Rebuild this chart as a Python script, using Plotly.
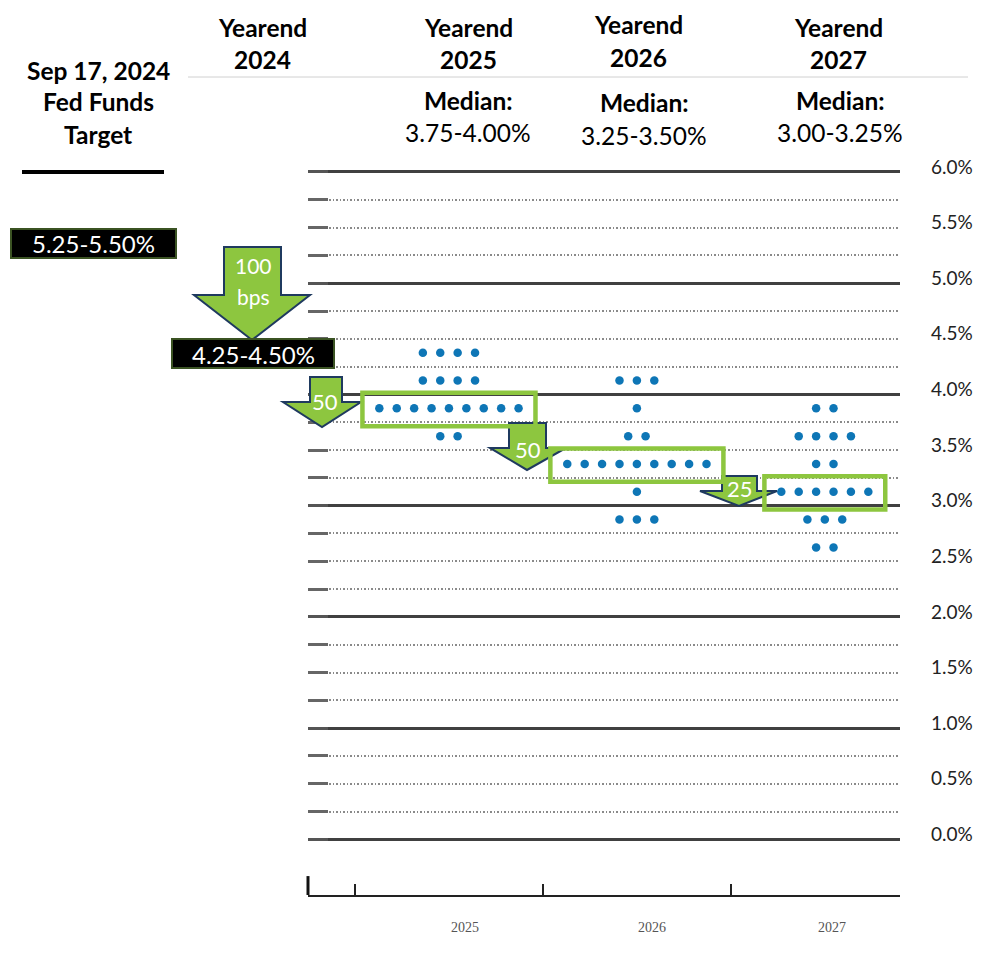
import plotly.graph_objects as go

# FOMC Sep 2024 dot plot, rate midpoints (%) and number of dots at each
years = ["2025", "2026", "2027"]
rates_2025 = [4.375, 4.125, 3.875, 3.625]
counts_2025 = [4, 4, 9, 2]
rates_2026 = [4.125, 3.875, 3.625, 3.375, 3.125, 2.875]
counts_2026 = [3, 1, 2, 9, 1, 3]
rates_2027 = [3.875, 3.625, 3.375, 3.125, 2.875, 2.625]
counts_2027 = [2, 4, 2, 6, 3, 2]

medians = [3.875, 3.375, 3.125]
median_labels = ["3.75-4.00%", "3.25-3.50%", "3.00-3.25%"]
header_years = ["2024", "2025", "2026", "2027"]
current_target = "5.25-5.50%"
yearend_2024_target = "4.25-4.50%"
cut_labels = ["100<br>bps", "50", "50", "25"]

y_ticks = [0.0, 0.5, 1.0, 1.5, 2.0, 2.5, 3.0, 3.5, 4.0, 4.5, 5.0, 5.5, 6.0]
major_grid = [0, 1, 2, 3, 4, 5, 6]
minor_grid = [0.25, 0.5, 0.75, 1.25, 1.5, 1.75, 2.25, 2.5, 2.75, 3.25, 3.5, 3.75,
              4.25, 4.5, 4.75, 5.25, 5.5, 5.75]

FONT = "Lato"
GREEN = "#8DC63F"
NAVY = "#1F3A5F"
DOT = "#0E76B6"
STEP = 0.0926  # horizontal gap between dots in one row


def X(px):
    return px / 1000


def Y(py):
    return 1 - py / 956


fig = go.Figure()

all_rates = [rates_2025, rates_2026, rates_2027]
all_counts = [counts_2025, counts_2026, counts_2027]
for i, (rates, counts) in enumerate(zip(all_rates, all_counts)):
    col = i + 1
    xs, ys = [], []
    for r, n in zip(rates, counts):
        for k in range(n):
            xs.append(col + (k - (n - 1) / 2) * STEP)
            ys.append(r)
    fig.add_trace(go.Scatter(x=xs, y=ys, mode="markers", name=years[i],
                             marker=dict(size=8.5, color=DOT), hoverinfo="y",
                             showlegend=False))

# invisible trace so the left (tick/grid) axis is drawn
fig.add_trace(go.Scatter(x=[1], y=[0], yaxis="y2", mode="markers",
                         marker=dict(opacity=0), showlegend=False, hoverinfo="skip"))

shapes = []


def arrow(sl, sr, top, sh, hl, hr, tx, ty):
    pts = [(sl, top), (sr, top), (sr, sh), (hr, sh), (tx, ty), (hl, sh), (sl, sh)]
    path = "M " + " L ".join(f"{X(a):.4f},{Y(b):.4f}" for a, b in pts) + " Z"
    shapes.append(dict(type="path", xref="paper", yref="paper", path=path,
                       fillcolor=GREEN, line=dict(color=NAVY, width=2)))


arrow(224, 281, 247, 295, 194, 310, 252, 340)
arrow(310, 342, 377, 402, 283, 361, 322, 427)
arrow(509, 546, 423, 448, 490, 566, 527, 470)
arrow(722, 757, 476, 491, 700, 777, 739, 506)

# green boxes round the median row of each year
for i, m in enumerate(medians):
    n = all_counts[i][all_rates[i].index(m)]
    half = (n - 1) / 2 * STEP + 0.09
    shapes.append(dict(type="rect", xref="x", yref="y", x0=i + 1 - half, x1=i + 1 + half,
                       y0=m - 0.16, y1=m + 0.14, line=dict(color=GREEN, width=4.5)))

# black target boxes
for (x0, y0, x1, y1) in [(11, 229, 176, 258), (172, 339, 334, 368)]:
    shapes.append(dict(type="rect", xref="paper", yref="paper", x0=X(x0), x1=X(x1),
                       y0=Y(y1), y1=Y(y0), fillcolor="black",
                       line=dict(color="#3B5323", width=2)))

# header rule, underline, tall left tick of the time axis
shapes.append(dict(type="line", xref="paper", yref="paper", x0=X(188), x1=X(968),
                   y0=Y(77), y1=Y(77), line=dict(color="#d0d0d0", width=1)))
shapes.append(dict(type="line", xref="paper", yref="paper", x0=X(22), x1=X(164),
                   y0=Y(172), y1=Y(172), line=dict(color="black", width=4)))
shapes.append(dict(type="line", xref="x domain", yref="y", x0=0, x1=0, y0=-0.5, y1=-0.33,
                   line=dict(color="#111", width=3)))

ann = []


def txt(s, x, y, size, bold=False, color="black", family=FONT):
    if bold:
        s = f"<b>{s}</b>"
    ann.append(dict(text=s, x=X(x), y=Y(y), xref="paper", yref="paper", showarrow=False,
                    xanchor="center", yanchor="middle",
                    font=dict(family=family, size=size, color=color)))


for line, yy in zip(["Sep 17, 2024", "Fed Funds", "Target"], [70, 102, 134]):
    txt(line, 98, yy, 24.5, bold=True)

for yr, cx, y1 in zip(header_years, [262, 468, 638, 838], [27, 27, 25, 27]):
    txt("Yearend", cx, y1, 24.5, bold=True)
    txt(yr, cx, y1 + 32, 24.5, bold=True)

for lab, cx, y1 in zip(median_labels, [468, 644, 840], [101, 103, 101]):
    txt("Median:", cx, y1, 24.5, bold=True)
    txt(lab, cx, y1 + 32, 24.5)

txt(current_target, 93, 244, 24, color="white")
txt(yearend_2024_target, 253, 354, 24, color="white")

txt("100", 253, 266, 21, color="white")
txt("bps", 253, 296, 21, color="white")
for lab, (cx, cy) in zip(cut_labels[1:], [(325, 402), (528, 449), (740, 488)]):
    txt(lab, cx, cy, 22, color="white")

for yr, cx in zip(years, [465, 652, 832]):
    txt(yr, cx, 927, 14, color="#555", family="Liberation Serif")

fig.update_layout(
    width=1000, height=956,
    margin=dict(l=0, r=0, t=0, b=0, autoexpand=False),
    paper_bgcolor="white", plot_bgcolor="white",
    shapes=shapes, annotations=ann,
    xaxis=dict(domain=[0.308, 0.9], range=[0.25, 3.4], showgrid=False, zeroline=False,
               automargin=False, showline=True, linecolor="#222", linewidth=2,
               tickvals=[0.5, 1.5, 2.5], ticktext=["", "", ""], ticks="inside",
               ticklen=11, tickwidth=1.5, tickcolor="#222"),
    yaxis=dict(domain=[Y(895), Y(166.4)], range=[-0.5, 6.05], side="right",
               automargin=False, tickvals=y_ticks, ticktext=[f"{v:.1f}%" for v in y_ticks],
               showgrid=False, zeroline=False, ticks="", ticklabelstandoff=30,
               ticklabelshift=-5, tickfont=dict(family=FONT, size=19, color="#222")),
    yaxis2=dict(overlaying="y", side="left", anchor="x", range=[-0.5, 6.05],
                automargin=False, tickvals=major_grid, showticklabels=False,
                zeroline=False, showgrid=True, gridcolor="#404040", gridwidth=2.5,
                ticks="inside", ticklen=20, tickwidth=2.5, tickcolor="#555",
                minor=dict(tickmode="array", tickvals=minor_grid, showgrid=True,
                           griddash="1.5px,2px", gridcolor="#8a8a8a", gridwidth=1.5,
                           ticks="inside", ticklen=20, tickwidth=2.5, tickcolor="#666")),
)

# pin the figure to the top-left corner of the page (no body margin, no scrollbars)
pin = ("document.body.style.margin='0';"
       "document.documentElement.style.overflow='hidden';"
       "var gd=document.getElementById('{plot_id}');"
       "gd.style.position='absolute';gd.style.left='0px';gd.style.top='0px';")
fig.write_html("out.html", config={"displayModeBar": False}, post_script=pin)
